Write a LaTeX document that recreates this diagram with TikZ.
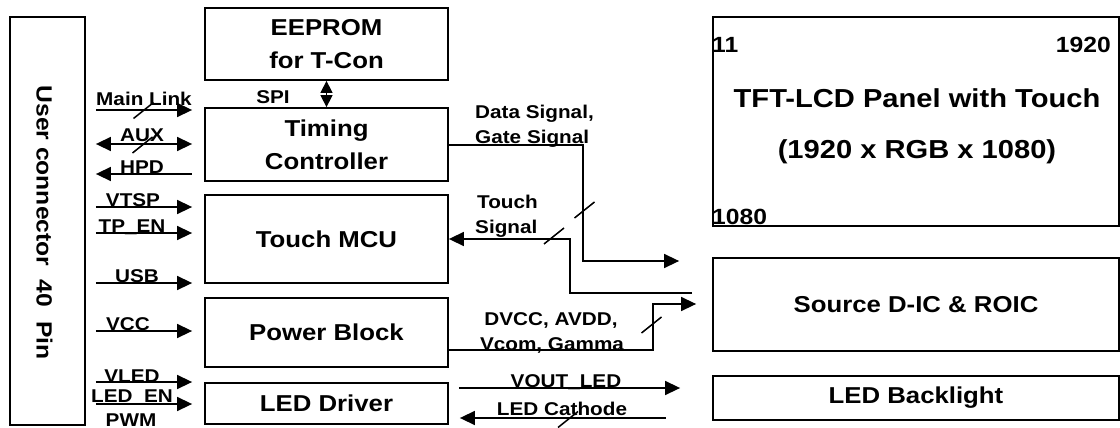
\documentclass[tikz,border=0pt]{standalone}
\usepackage{fontspec}
\setmainfont{Liberation Sans}[FakeStretch=1.12]
\usetikzlibrary{arrows.meta}

\tikzset{
  blk/.style = {draw, line width=1.8pt, minimum width=243pt, align=center,
    inner sep=0pt, font=\fontsize{23}{33}\selectfont\bfseries},
  tag/.style = {inner sep=0pt, font=\fontsize{18.5}{22}\selectfont\bfseries},
  num/.style = {inner sep=0pt, font=\fontsize{22}{26}\selectfont\bfseries},
  wire/.style = {line width=1.5pt},
  fwd/.style = {wire, -{Triangle[length=15pt,width=14pt]}},
  bwd/.style = {wire, {Triangle[length=15pt,width=14pt]}-},
  twoway/.style = {wire, {Triangle[length=15pt,width=14pt]}-{Triangle[length=15pt,width=14pt]}},
}

\begin{document}
\begin{tikzpicture}[x=1pt, y=-1pt]
  \useasboundingbox (0,0) rectangle (1120,428);

  % connector on the left
  \node[blk, minimum width=75pt, minimum height=408pt] (conn) at (47.5,221) {};
  \node[num, rotate=-90, font=\fontsize{22}{26}\selectfont\bfseries] (conntxt)
    at (44.5,222.5) {User connector\ \ 40\ \ Pin};

  % blocks of the module
  \node[blk, minimum height=72pt] (eeprom) at (326.5,44) {EEPROM\\for T-Con};
  \node[blk, minimum height=73pt] (tcon) at (326.5,144.5) {Timing\\Controller};
  \node[blk, minimum height=88pt] (mcu) at (326.5,239) {Touch MCU};
  \node[blk, minimum height=69pt] (power) at (326.5,332.5) {Power Block};
  \node[blk, minimum height=41pt] (led) at (326.5,403.5) {LED Driver};

  % panel side
  \node[blk, minimum width=406pt, minimum height=209pt] (panel) at (916,121.5) {};
  \node[blk, minimum width=406pt, minimum height=93pt] (source) at (916,304.5)
    {Source D-IC \& ROIC};
  \node[blk, minimum width=406pt, minimum height=44pt] (backlight) at (916,398)
    {LED Backlight};
  \node[num, anchor=base west] (p11) at (712,53) {11};
  \node[num, anchor=base east] (p1920) at (1111,53) {1920};
  \node[num, anchor=base west] (p1080) at (712,224) {1080};
  \node[num, anchor=base, font=\fontsize{26}{30}\selectfont\bfseries] (ptitle)
    at (917,107) {TFT-LCD Panel with Touch};
  \node[num, anchor=base, font=\fontsize{26}{30}\selectfont\bfseries] (pres)
    at (917,158) {(1920 x RGB x 1080)};

  % signals from the user connector
  \foreach \y/\dst/\dir in {110/tcon/fwd, 144/tcon/twoway, 174/tcon/bwd,
      207/mcu/fwd, 233/mcu/fwd, 283/mcu/fwd, 331/power/fwd,
      382/led/fwd, 404/led/fwd}
    \draw[\dir, shorten <=10pt, shorten >=12pt]
      (conn.east |- 0,\y) -- (\dst.west |- 0,\y);
  \foreach \x/\y/\txt [count=\i] in {144/106/Main Link, 142/142/AUX,
      142/173.5/HPD, 133/206/VTSP, 132/232/TP\_EN, 137/282/USB,
      128/330/VCC, 132/382.5/VLED, 132/402/LED\_EN, 131/426/PWM}
    \node[tag, anchor=base] (in\i) at (\x,\y) {\txt};

  % SPI
  \draw[wire, {Triangle[length=12pt,width=12pt]}-{Triangle[length=12pt,width=12pt]}]
    (eeprom.south) -- (tcon.north);
  \node[tag, anchor=base] (spi) at (273,103) {SPI};

  % data / gate signal
  \draw[fwd, shorten >=33pt] (tcon.east |- 0,145) -| (583,261)
    -- (source.west |- 0,261);
  \node[tag, anchor=base west] (ds1) at (475,118) {Data Signal,};
  \node[tag, anchor=base west] (ds2) at (475,143) {Gate Signal};

  % touch signal
  \draw[fwd, shorten <=20pt] (source.west |- 0,293) -| (570,239)
    -- (mcu.east |- 0,239);
  \node[tag, anchor=base west] (ts1) at (477,208) {Touch};
  \node[tag, anchor=base west] (ts2) at (475,233) {Signal};

  % power
  \draw[fwd, shorten >=16pt] (power.east |- 0,350) -| (653,304)
    -- (source.west |- 0,304);
  \node[tag, anchor=base] (pw1) at (551,325) {DVCC, AVDD,};
  \node[tag, anchor=base] (pw2) at (552,350) {Vcom, Gamma};

  % backlight
  \draw[fwd, shorten <=10pt, shorten >=32pt] (led.east |- 0,388)
    -- (backlight.west |- 0,388);
  \draw[bwd, shorten <=11pt, shorten >=46pt] (led.east |- 0,418)
    -- (backlight.west |- 0,418);
  \node[tag, anchor=base] (vout) at (566,387) {VOUT\_LED};
  \node[tag, anchor=base] (cath) at (562,415) {LED Cathode};

  % bus marks
  \foreach \sx/\sy in {143.5/110.5, 142.5/145, 584.5/210, 554/236,
      651.5/325, 568/419.5}
    \draw[wire] (\sx-10,\sy+8) -- (\sx+10,\sy-8);
\end{tikzpicture}
\end{document}
